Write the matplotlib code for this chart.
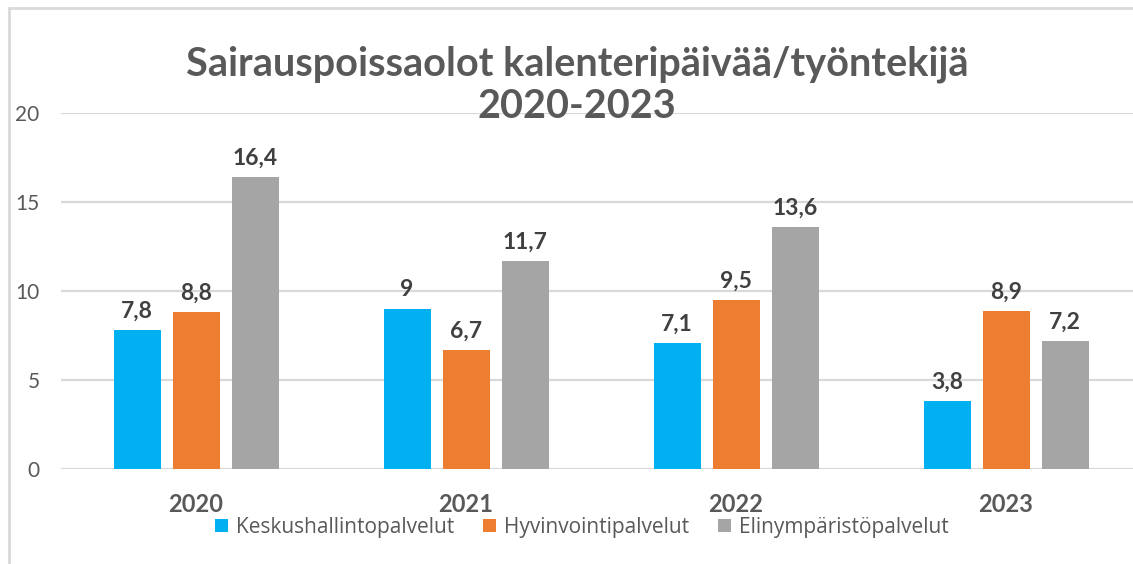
import matplotlib.pyplot as plt
from matplotlib.patches import Rectangle

years = ["2020", "2021", "2022", "2023"]
series = ["Keskushallintopalvelut", "Hyvinvointipalvelut", "Elinympäristöpalvelut"]
keskus = [7.8, 9.0, 7.1, 3.8]
hyvin = [8.8, 6.7, 9.5, 8.9]
elin = [16.4, 11.7, 13.6, 7.2]
labels_k = ["7,8", "9", "7,1", "3,8"]
labels_h = ["8,8", "6,7", "9,5", "8,9"]
labels_e = ["16,4", "11,7", "13,6", "7,2"]
colors = ["#00B0F0", "#ED7D31", "#A5A5A5"]

plt.rcParams["font.family"] = ["Lato", "DejaVu Sans"]

W, H = 1133, 564
fig = plt.figure(figsize=(W / 100, H / 100), dpi=100)

# plot area in pixels: x 61..1133, y 113..469
ax = fig.add_axes([61 / W, (H - 469) / H, (W - 61) / W, (469 - 113) / H])
cat_px = 270
ax.set_xlim(-0.5, -0.5 + (W - 61) / cat_px)
ax.set_ylim(0, 20)

bw = 47 / cat_px
step = 59 / cat_px
x = list(range(len(years)))
for i, (vals, labs) in enumerate(zip([keskus, hyvin, elin], [labels_k, labels_h, labels_e])):
    xs = [xi + (i - 1) * step for xi in x]
    bars = ax.bar(xs, vals, width=bw, color=colors[i], label=series[i], zorder=3)
    ax.bar_label(bars, labels=labs, padding=6, fontsize=16.5, fontweight="bold", color="#404040")

ax.set_yticks([0, 5, 10, 15, 20])
ax.yaxis.grid(True, color="#D9D9D9", linewidth=1.6, zorder=0)
ax.set_axisbelow(True)
for s in ax.spines.values():
    s.set_visible(False)
ax.tick_params(axis="y", length=0, pad=15.5, labelsize=15, labelcolor="#595959")
ax.set_xticks(x)
ax.set_xticklabels(years, fontsize=17, fontweight="bold", color="#595959")
ax.tick_params(axis="x", length=0, pad=17)

fig.text(577 / W, (H - 64) / H, "Sairauspoissaolot kalenteripäivää/työntekijä",
         ha="center", va="center", fontsize=28.5, fontweight="bold", color="#595959")
fig.text(577 / W, (H - 107) / H, "2020-2023",
         ha="center", va="center", fontsize=28.5, fontweight="bold", color="#595959")

leg = fig.legend(loc="center", bbox_to_anchor=(582 / W, (H - 527) / H), ncol=3,
                 frameon=False, fontsize=15, handlelength=0.6, handleheight=0.6,
                 handletextpad=0.4, columnspacing=1.4)
for t in leg.get_texts():
    t.set_color("#595959")
    t.set_fontfamily(["Open Sans", "DejaVu Sans"])

# light frame of the chart area
fig.patches.append(Rectangle((9 / W, -0.05), 1.1, (H - 8) / H + 0.05, transform=fig.transFigure,
                             fill=False, edgecolor="#D9D9D9", linewidth=2))

fig.savefig("out.png", dpi=100)
